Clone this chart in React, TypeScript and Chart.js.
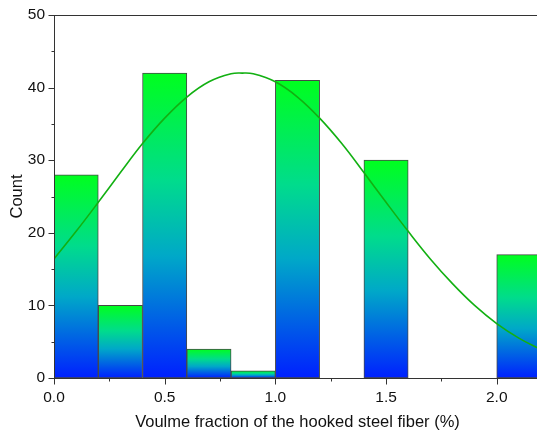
import React, { useEffect, useRef } from "react";
import { Chart, registerables } from "chart.js";

Chart.register(...registerables);

const binCenters = [0.1, 0.3, 0.5, 0.7, 0.9, 1.1, 1.3, 1.5, 1.7, 1.9, 2.1];
const binCounts = [28, 10, 42, 4, 1, 41, 0, 30, 0, 0, 17];
const curveX = [0, 0.1, 0.2, 0.3, 0.4, 0.5, 0.6, 0.7, 0.8, 0.85, 0.9, 1.0, 1.1, 1.2, 1.3, 1.4, 1.5, 1.6, 1.7, 1.8, 1.9, 2.0, 2.1, 2.2];
const curveY = [16.4, 20.2, 24.2, 28.3, 32.3, 35.8, 38.7, 40.8, 41.9, 42.0, 41.9, 40.8, 38.7, 35.8, 32.3, 28.3, 24.2, 20.2, 16.4, 13.0, 10.0, 7.5, 5.5, 3.9];
const xMajorTicks = [0, 0.5, 1.0, 1.5, 2.0];
const yMajorTicks = [0, 10, 20, 30, 40, 50];

const FONT = "'Liberation Sans', Arial, sans-serif";
const AXIS_COLOR = "#333333";

const axisPlugin = {
  id: "axisDecor",
  afterDatasetsDraw(chart: any) {
    const { ctx, chartArea, scales } = chart;
    const x = scales.x;
    const y = scales.y;
    ctx.save();
    ctx.strokeStyle = AXIS_COLOR;
    ctx.lineWidth = 1;
    ctx.beginPath();
    ctx.moveTo(chartArea.left, Math.round(chartArea.top) + 0.5);
    ctx.lineTo(chartArea.right + 10, Math.round(chartArea.top) + 0.5);
    ctx.stroke();
    const lx = Math.round(chartArea.left) + 0.5;
    ctx.beginPath();
    ctx.moveTo(lx, chartArea.top);
    ctx.lineTo(lx, chartArea.bottom + 1);
    ctx.stroke();
    const by = Math.round(chartArea.bottom) + 0.5;
    ctx.beginPath();
    ctx.moveTo(chartArea.left - 5, by);
    ctx.lineTo(chartArea.right + 10, by);
    ctx.stroke();
    for (let v = 0; v <= 50; v += 5) {
      const py = Math.round(y.getPixelForValue(v)) + 0.5;
      const len = v % 10 === 0 ? 6 : 3;
      ctx.beginPath();
      ctx.moveTo(lx - len, py);
      ctx.lineTo(lx, py);
      ctx.stroke();
    }
    for (let i = 0; i <= 8; i++) {
      const v = i * 0.25;
      const px = Math.round(x.getPixelForValue(v)) + 0.5;
      const len = i % 2 === 0 ? 6 : 3;
      ctx.beginPath();
      ctx.moveTo(px, by);
      ctx.lineTo(px, by + len);
      ctx.stroke();
    }
    ctx.restore();
  },
};

function barGradient(context: any) {
  const chart = context.chart;
  const yScale = chart.scales?.y;
  const v = context.raw && typeof context.raw === "object" ? context.raw.y : context.raw;
  if (v == null || v <= 0) return "rgba(0,0,0,0)";
  if (!yScale || !chart.ctx) return "#00c0b0";
  const top = yScale.getPixelForValue(v);
  const bottom = yScale.getPixelForValue(0);
  if (!isFinite(top) || !isFinite(bottom) || bottom - top < 0.5) return "#0020ff";
  const g = chart.ctx.createLinearGradient(0, top, 0, bottom);
  g.addColorStop(0, "#00ff1e");
  g.addColorStop(0.35, "#00dc8c");
  g.addColorStop(0.6, "#00a8c8");
  g.addColorStop(1, "#0020ff");
  return g;
}

export default function App() {
  const ref = useRef<HTMLCanvasElement | null>(null);

  useEffect(() => {
    document.body.style.margin = "0";
    document.body.style.overflow = "hidden";
    const canvas = ref.current;
    if (!canvas) return;
    const chart = new Chart(canvas, {
      type: "bar",
      data: {
        datasets: [
          {
            type: "line",
            data: curveX.map((x, i) => ({ x, y: curveY[i] })),
            borderColor: "#12b012",
            borderWidth: 1.6,
            pointRadius: 0,
            fill: false,
            tension: 0.4,
            order: 0,
          } as any,
          {
            type: "bar",
            data: binCenters.map((x, i) => ({ x, y: binCounts[i] })),
            backgroundColor: barGradient,
            borderColor: "#474747",
            borderWidth: (c: any) => (c.raw && c.raw.y > 0 ? 1 : 0),
            borderSkipped: false,
            barPercentage: 1,
            categoryPercentage: 1,
            order: 1,
          } as any,
        ],
      },
      options: {
        animation: false,
        responsive: false,
        maintainAspectRatio: false,
        layout: { padding: { left: 0, top: 15, right: 0, bottom: 0 } },
        plugins: { legend: { display: false }, tooltip: { enabled: false } },
        scales: {
          x: {
            type: "linear",
            min: 0,
            max: 2.2,
            offset: false,
            border: { display: false },
            grid: { display: false, drawTicks: false },
            afterBuildTicks: (s: any) => {
              s.ticks = xMajorTicks.map((v) => ({ value: v }));
            },
            afterFit: (s: any) => {
              s.height = 54;
            },
            ticks: {
              padding: 10,
              color: "#111",
              font: { family: FONT, size: 15.5 },
              maxRotation: 0,
              autoSkip: false,
              callback: (v: any) => Number(v).toFixed(1),
            },
            title: {
              display: true,
              text: "Voulme fraction of the hooked steel fiber (%)",
              color: "#111",
              font: { family: FONT, size: 16.5 },
              padding: { top: 4, bottom: 0 },
            },
          },
          y: {
            type: "linear",
            min: 0,
            max: 50,
            border: { display: false },
            grid: { display: false, drawTicks: false },
            afterBuildTicks: (s: any) => {
              s.ticks = yMajorTicks.map((v) => ({ value: v }));
            },
            afterFit: (s: any) => {
              s.width = 54;
              s.paddingTop = 0;
              s.paddingBottom = 0;
            },
            ticks: {
              padding: 9,
              color: "#111",
              font: { family: FONT, size: 15.5, lineHeight: 1 },
              autoSkip: false,
            },
            title: {
              display: true,
              text: "Count",
              color: "#111",
              font: { family: FONT, size: 16.5 },
              padding: { top: 8, bottom: 6 },
            },
          },
        },
      } as any,
      plugins: [axisPlugin],
    });
    return () => chart.destroy();
  }, []);

  return (
    <div style={{ position: "fixed", left: 0, top: 0, width: 541, height: 432, background: "#fff" }}>
      <canvas ref={ref} width={541} height={432} style={{ width: 541, height: 432, display: "block" }} />
    </div>
  );
}
